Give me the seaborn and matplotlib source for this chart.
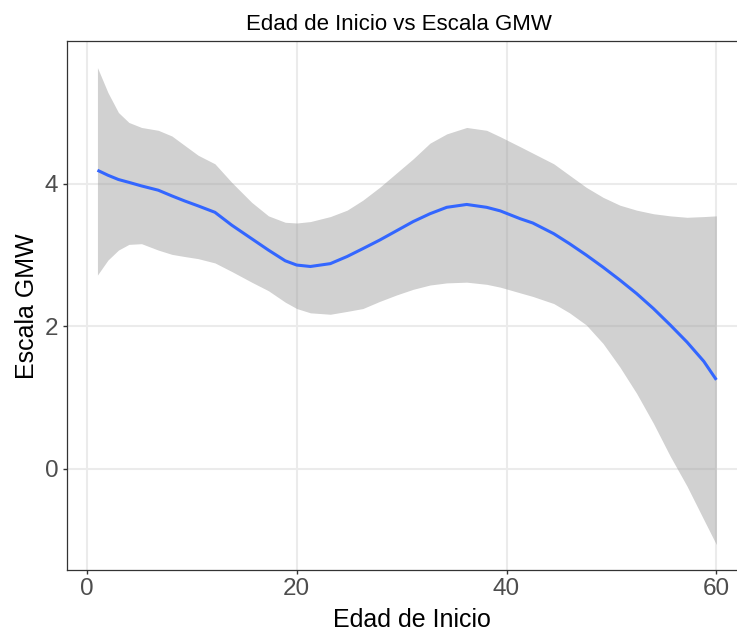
import numpy as np
import pandas as pd
import matplotlib
matplotlib.use("Agg")
import matplotlib.pyplot as plt
import seaborn as sns

# ---- data ----
edad = [1, 2, 3, 4, 5.2, 6.8, 8.1, 9.3, 10.6, 12.2, 13.8, 15.7, 17.3, 18.9, 20,
        21.3, 23.2, 24.8, 26.3, 27.9, 29.5, 31.1, 32.7, 34.3, 36.2, 38.1, 39.4,
        41.3, 42.5, 44.5, 46, 47.6, 49.2, 50.8, 52.4, 54.0, 55.6, 57.2, 58.8, 60]
ajuste = [4.19, 4.12, 4.06, 4.02, 3.97, 3.91, 3.83, 3.76, 3.69, 3.60, 3.42, 3.23,
          3.07, 2.92, 2.86, 2.84, 2.88, 2.98, 3.09, 3.21, 3.34, 3.47, 3.58, 3.67,
          3.71, 3.67, 3.62, 3.51, 3.45, 3.30, 3.16, 3.00, 2.83, 2.65, 2.46, 2.25,
          2.02, 1.78, 1.51, 1.25]
superior = [5.63, 5.28, 5.00, 4.86, 4.79, 4.75, 4.67, 4.54, 4.40, 4.28, 4.02, 3.74,
            3.55, 3.46, 3.45, 3.47, 3.54, 3.63, 3.77, 3.95, 4.15, 4.35, 4.57, 4.70,
            4.79, 4.75, 4.66, 4.52, 4.43, 4.28, 4.12, 3.95, 3.81, 3.70, 3.63, 3.58,
            3.55, 3.53, 3.54, 3.55]
inferior = [2.72, 2.93, 3.07, 3.15, 3.16, 3.07, 3.01, 2.98, 2.95, 2.89, 2.77, 2.62,
            2.50, 2.34, 2.25, 2.19, 2.17, 2.21, 2.25, 2.35, 2.44, 2.52, 2.58, 2.61,
            2.62, 2.59, 2.55, 2.47, 2.42, 2.32, 2.19, 2.02, 1.76, 1.43, 1.06, 0.64,
            0.18, -0.24, -0.71, -1.06]
x_ticks = [0, 20, 40, 60]
y_ticks = [0, 2, 4]

titulo = "Edad de Inicio vs Escala GMW"
x_label = "Edad de Inicio"
y_label = "Escala GMW"

df = pd.DataFrame({"edad": edad, "ajuste": ajuste,
                   "superior": superior, "inferior": inferior})

sns.set_theme(style="white")
plt.rcParams["font.family"] = ["Liberation Sans", "DejaVu Sans"]

W, H = 737, 633
fig = plt.figure(figsize=(W / 100, H / 100), dpi=100)
fig.patch.set_facecolor("white")

# panel (its right side is cropped in the reference)
left_px, right_px, top_px, bottom_px = 66.5, 747.3, 41.2, 570.2
ax = fig.add_axes([left_px / W, 1 - bottom_px / H,
                   (right_px - left_px) / W, (bottom_px - top_px) / H])
ax.set_facecolor("white")

ax.fill_between(df["edad"], df["inferior"], df["superior"],
                color="#999999", alpha=0.45, linewidth=0, zorder=2)
sns.lineplot(data=df, x="edad", y="ajuste", ax=ax, color="#3366FF",
             linewidth=2.2, zorder=3, solid_joinstyle="round",
             solid_capstyle="butt")

ax.set_xlim(-1.95, 62.95)
ax.set_ylim(-1.42, 6.0)
ax.set_xticks(x_ticks)
ax.set_yticks(y_ticks)

ax.set_axisbelow(True)
ax.grid(True, color="#EBEBEB", linewidth=1.5)
for sp in ax.spines.values():
    sp.set_color("#333333")
    sp.set_linewidth(0.9)
ax.spines["right"].set_visible(False)

ax.tick_params(axis="both", which="major", length=2.9, width=1.0,
               color="#333333", labelcolor="#4D4D4D", labelsize=17.5,
               bottom=True, left=True)
ax.tick_params(axis="x", pad=2.5)
ax.tick_params(axis="y", pad=3.0)

ax.set_xlabel(x_label, fontsize=18, color="black", va="baseline")
ax.xaxis.set_label_coords((412 - left_px) / (right_px - left_px),
                          -(627 - bottom_px) / (bottom_px - top_px))
ax.set_ylabel(y_label, fontsize=18, color="black", va="baseline",
              rotation_mode="anchor")
ax.yaxis.set_label_coords(-(left_px - 34) / (right_px - left_px), 0.5)

fig.text(399 / W, 1 - 30 / H, titulo, fontsize=16, color="black",
         ha="center", va="baseline")

fig.savefig("out.png", dpi=100, facecolor="white")
